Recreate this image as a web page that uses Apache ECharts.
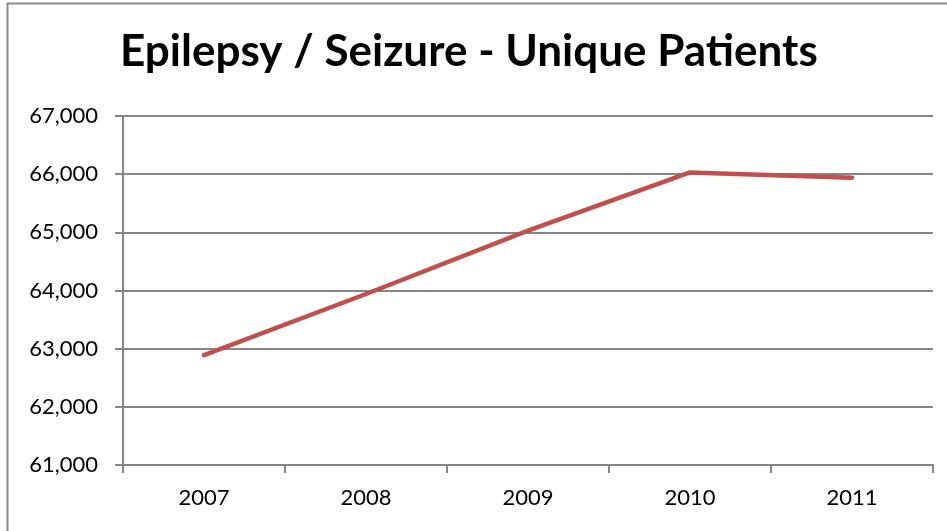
<!DOCTYPE html>
<html>
<head>
<meta charset="utf-8">
<script src="https://cdn.jsdelivr.net/npm/echarts@6/dist/echarts.min.js"></script>
<style>
  html, body { margin: 0; padding: 0; background: #fff; }
  #main { width: 947px; height: 531px; }
</style>
</head>
<body>
<div id="main"></div>
<script>
// 年份 / 病人数
var years = ['2007', '2008', '2009', '2010', '2011'];
var patients = [62890, 63940, 65030, 66030, 65940];
var yMin = 61000, yMax = 67000, yStep = 1000;

var chart = echarts.init(document.getElementById('main'));
chart.setOption({
    backgroundColor: '#fff',
    animation: false,
    title: {
        text: 'Epilepsy / Seizure - Unique Patients',
        left: 115,
        top: 25,
        textStyle: {
            fontFamily: 'Lato',
            fontWeight: 'bold',
            fontSize: 44,
            color: '#000'
        }
    },
    graphic: [{
        type: 'rect',
        shape: { x: 7.5, y: 3.5, width: 960, height: 560 },
        style: { fill: 'none', stroke: '#8a8a8a', lineWidth: 2 },
        silent: true
    }],
    grid: { left: 123, right: 14, top: 116, bottom: 66 },
    xAxis: {
        type: 'category',
        data: years,
        boundaryGap: true,
        axisLine: { lineStyle: { color: '#868686', width: 2 } },
        axisTick: { show: true, length: 8, lineStyle: { color: '#868686', width: 2 } },
        axisLabel: { fontFamily: 'Lato', fontSize: 22, color: '#000', margin: 22 }
    },
    yAxis: {
        type: 'value',
        min: yMin,
        max: yMax,
        interval: yStep,
        axisLine: { show: true, lineStyle: { color: '#868686', width: 2 } },
        axisTick: { show: true, length: 8, lineStyle: { color: '#868686', width: 2 } },
        splitLine: { lineStyle: { color: '#868686', width: 2 } },
        axisLabel: {
            fontFamily: 'Lato', fontSize: 22, color: '#000', margin: 25,
            formatter: function (v) { return v.toLocaleString('en-US'); }
        }
    },
    series: [{
        name: 'Unique Patients',
        type: 'line',
        data: patients,
        symbol: 'none',
        lineStyle: { color: '#C0504D', width: 4.5, cap: 'round', join: 'round' }
    }]
});
</script>
</body>
</html>
